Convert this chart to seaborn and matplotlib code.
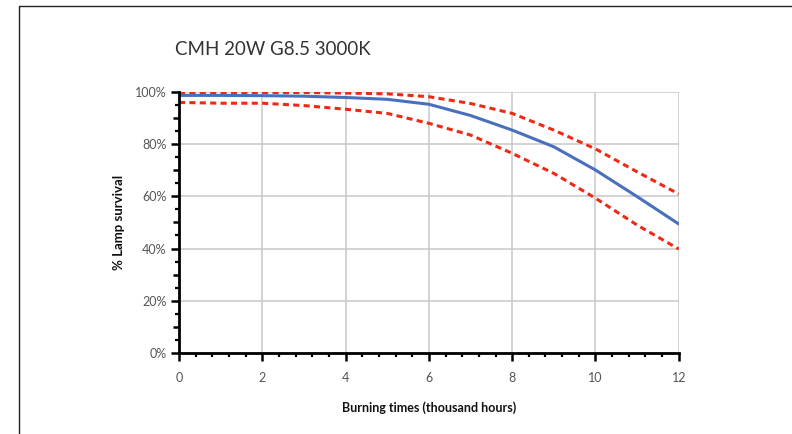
"""Lamp survival chart for CMH 20W G8.5 3000K."""

import matplotlib

matplotlib.use("Agg")

import matplotlib.pyplot as plt
import pandas as pd
import seaborn as sns
from matplotlib.lines import Line2D
from matplotlib.ticker import FuncFormatter, MultipleLocator

TITLE = "CMH 20W G8.5 3000K"

hours = [0, 1, 2, 3, 4, 5, 6, 7, 8, 9, 10, 11, 12]
survival_mean = [98.7, 98.7, 98.6, 98.4, 97.9, 97.2, 95.3, 91.0, 85.4, 79.0, 70.1, 59.9, 49.4]
survival_upper = [99.7, 99.8, 99.8, 99.8, 99.6, 99.3, 98.2, 95.6, 91.8, 85.4, 78.2, 69.4, 60.9]
survival_lower = [96.0, 95.7, 95.7, 94.8, 93.4, 91.8, 88.0, 83.5, 76.5, 68.8, 59.3, 49.0, 39.8]

BLUE = "#4a6fbd"
RED = "#ee2a15"


def main():
    sns.set_style("white")
    plt.rcParams["font.family"] = ["Lato", "DejaVu Sans"]

    df = pd.DataFrame(
        {
            "hours": hours,
            "mean": survival_mean,
            "upper": survival_upper,
            "lower": survival_lower,
        }
    )

    fig = plt.figure(figsize=(7.92, 4.34), dpi=100)
    ax = fig.add_axes([0.226, 0.187, 0.631, 0.601])

    # outer frame of the original figure (only top & left visible in the crop)
    fig.add_artist(Line2D([19 / 792, 19 / 792], [0, 1 - 6 / 434], color="#222222", lw=1.0))
    fig.add_artist(Line2D([19 / 792, 1], [1 - 6 / 434, 1 - 6 / 434], color="#222222", lw=1.0))

    for col in ["upper", "lower"]:
        sns.lineplot(
            data=df, x="hours", y=col, ax=ax, color=RED, lw=2.2,
            linestyle=(0, (2.0, 1.4)), zorder=3,
        )
    sns.lineplot(data=df, x="hours", y="mean", ax=ax, color=BLUE, lw=2.2, zorder=4)

    ax.set_xlim(0, 12)
    ax.set_ylim(0, 100)

    ax.xaxis.set_major_locator(MultipleLocator(2))
    ax.xaxis.set_minor_locator(MultipleLocator(0.4))
    ax.yaxis.set_major_locator(MultipleLocator(10))
    ax.yaxis.set_minor_locator(MultipleLocator(5))
    ax.yaxis.set_major_formatter(
        FuncFormatter(lambda y, _: "{:.0f}%".format(y) if round(y) % 20 == 0 else "")
    )

    ax.grid(True, which="major", color="#c8c8c8", lw=1.1)

    for side in ["top", "right"]:
        ax.spines[side].set_visible(False)
    for side in ["left", "bottom"]:
        ax.spines[side].set_color("black")
        ax.spines[side].set_linewidth(2.0)
        ax.spines[side].set_zorder(5)

    ax.tick_params(which="major", direction="out", length=6, width=1.8, color="black",
                   labelsize=9, labelcolor="#555555", left=True, bottom=True)
    ax.tick_params(which="minor", direction="out", length=3, width=1.6, color="black",
                   left=True, bottom=True)
    ax.tick_params(axis="x", pad=8)
    ax.tick_params(axis="y", pad=3)
    for val, tick in zip(ax.get_yticks(), ax.yaxis.get_major_ticks()):
        if round(val) % 20 != 0:
            tick.gridline.set_visible(False)
            tick.tick1line.set_markersize(4)

    ax.set_xlabel("Burning times (thousand hours)", fontsize=9, fontweight="bold",
                  color="#111111", labelpad=12)
    ax.set_ylabel("% Lamp survival", fontsize=9.5, fontweight="bold", color="#111111",
                  labelpad=7)

    fig.text(0.221, 0.873, TITLE, fontsize=13.5, color="#333333", ha="left", va="baseline")

    fig.savefig("out.png", dpi=100)


if __name__ == "__main__":
    main()
